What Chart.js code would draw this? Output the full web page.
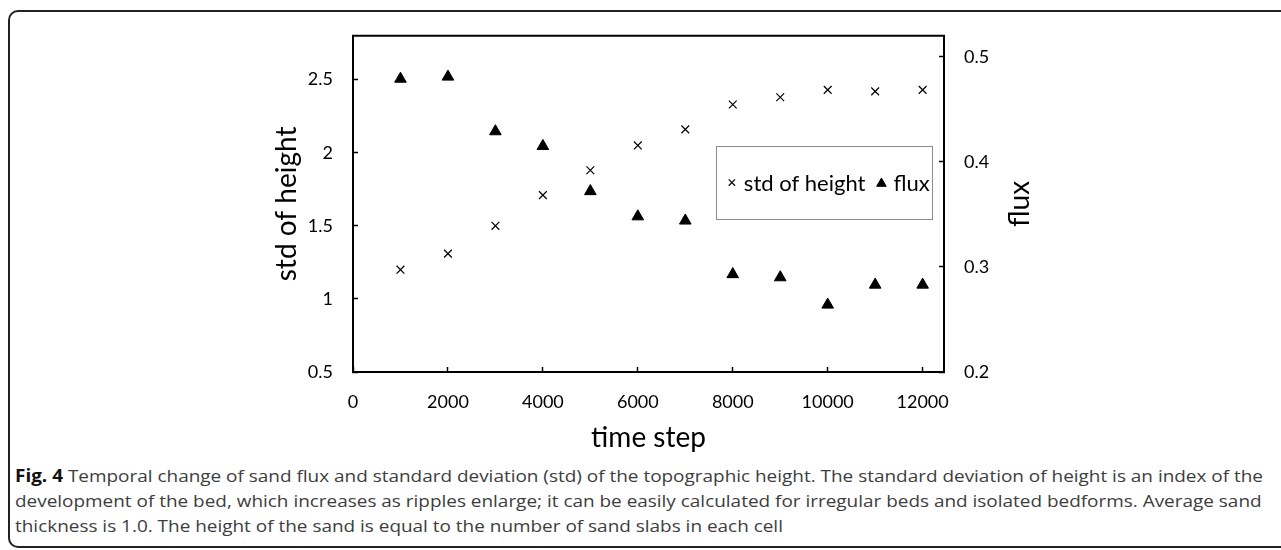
<!DOCTYPE html>
<html>
<head>
<meta charset="utf-8">
<script src="https://cdn.jsdelivr.net/npm/chart.js@4.4.0/dist/chart.umd.min.js"></script>
<style>
  html, body { margin: 0; padding: 0; background: #fff; }
  body { width: 1281px; height: 550px; position: relative; overflow: hidden; }
  #frame { position: absolute; left: 8px; top: 10px; width: 1320px; height: 538px; border: 2px solid #222; border-radius: 10px; box-sizing: border-box; }
  #plot { position: absolute; left: 0; top: 0; }
  #caption { position: absolute; left: 15px; top: 463px; font-family: 'Open Sans', sans-serif; font-size: 17px; line-height: 25px; color: #3d3d3d; white-space: nowrap; }
  #caption div { transform-origin: left center; }
  #caption b { color: #111; }
</style>
</head>
<body>
<div id="frame"></div>
<canvas id="plot" width="1281" height="455"></canvas>
<div id="caption">
  <div><b>Fig. 4</b> Temporal change of sand flux and standard deviation (std) of the topographic height. The standard deviation of height is an index of the</div>
  <div>development of the bed, which increases as ripples enlarge; it can be easily calculated for irregular beds and isolated bedforms. Average sand</div>
  <div>thickness is 1.0. The height of the sand is equal to the number of sand slabs in each cell</div>
</div>
<script>
const timeSteps = [1000, 2000, 3000, 4000, 5000, 6000, 7000, 8000, 9000, 10000, 11000, 12000]
const stdOfHeight = [1.2, 1.31, 1.5, 1.71, 1.88, 2.05, 2.16, 2.33, 2.38, 2.43, 2.42, 2.43]
const flux = [0.479, 0.481, 0.429, 0.415, 0.372, 0.348, 0.344, 0.293, 0.29, 0.264, 0.283, 0.283]
const seriesNames = ['std of height', 'flux']
const xTickValues = [0, 2000, 4000, 6000, 8000, 10000, 12000]
const stdTickValues = [0.5, 1, 1.5, 2, 2.5]
const fluxTickValues = [0.2, 0.3, 0.4, 0.5]
const axisTitles = { x: 'time step', y: 'std of height', y1: 'flux' }

const FONT = 'Lato, "Open Sans", sans-serif'

// caption lines are squeezed to the width of the printed figure
const lines = document.querySelectorAll('#caption div')
const k = 1248 / lines[0].getBoundingClientRect().width
lines.forEach(l => { l.style.transform = 'scaleX(' + k + ')' })

const plotFrame = {
  id: 'plotFrame',
  afterDraw (chart) {
    const { ctx, chartArea: a } = chart
    ctx.save()
    ctx.strokeStyle = '#000'
    ctx.lineWidth = 2
    ctx.beginPath()
    ctx.moveTo(a.left - 1, a.top)
    ctx.lineTo(a.right + 1, a.top)
    ctx.stroke()

    // right axis title reads bottom to top, like the left one
    ctx.fillStyle = '#000'
    ctx.font = '28px ' + FONT
    ctx.textAlign = 'center'
    ctx.textBaseline = 'middle'
    ctx.translate(a.right + 76, (a.top + a.bottom) / 2)
    ctx.rotate(-Math.PI / 2)
    ctx.fillText(axisTitles.y1, 0, 0)
    ctx.restore()
  }
}

const legendBox = {
  id: 'legendBox',
  afterDraw (chart) {
    const { ctx, chartArea: a } = chart
    const w = a.right - a.left
    const h = a.bottom - a.top
    const x0 = a.left + w * 0.614
    const x1 = a.left + w * 0.98
    const y0 = a.top + h * 0.328
    const y1 = a.top + h * 0.545
    const yc = (y0 + y1) / 2
    ctx.save()
    ctx.strokeStyle = '#8a8a8a'
    ctx.lineWidth = 1
    ctx.strokeRect(Math.round(x0) + 0.5, Math.round(y0) + 0.5, Math.round(x1 - x0), Math.round(y1 - y0))
    ctx.font = '22px ' + FONT
    ctx.textBaseline = 'middle'
    let x = x0 + 16
    chart.data.datasets.forEach((ds, i) => {
      ctx.fillStyle = '#000'
      ctx.strokeStyle = '#000'
      ctx.lineWidth = ds.borderWidth
      Chart.helpers.drawPoint(ctx, {
        pointStyle: ds.pointStyle,
        radius: i === 0 ? 4.5 : 5.5,
        borderWidth: ds.borderWidth,
        rotation: 0
      }, x, yc + (i === 0 ? 0 : 1))
      ctx.fillText(ds.label, x + 12, yc + 1)
      x += 12 + ctx.measureText(ds.label).width + 16
    })
    ctx.restore()
  }
}

const axisLook = {
  grid: { drawOnChartArea: false, tickLength: -5, color: '#000', tickColor: '#000', tickWidth: 1.5 },
  border: { color: '#000', width: 2 }
}

const tickFont = { family: FONT, size: 18 }
const titleFont = { family: FONT, size: 28 }

// eslint-disable-next-line no-unused-vars, no-undef
const chart = new Chart(document.querySelector('#plot'), {
  type: 'scatter',
  data: {
    datasets: [{
      label: seriesNames[0],
      data: timeSteps.map((t, i) => ({ x: t, y: stdOfHeight[i] })),
      yAxisID: 'y',
      pointStyle: 'crossRot',
      pointRadius: 5.5,
      borderWidth: 1.2,
      borderColor: '#000',
      backgroundColor: '#000'
    }, {
      label: seriesNames[1],
      data: timeSteps.map((t, i) => ({ x: t, y: flux[i] })),
      yAxisID: 'y1',
      pointStyle: 'triangle',
      pointRadius: 6.7,
      borderWidth: 1,
      borderColor: '#000',
      backgroundColor: '#000'
    }]
  },
  options: {
    responsive: false,
    animation: false,
    devicePixelRatio: 1,
    layout: { padding: { left: 270, right: 244, top: 29, bottom: 0 } },
    plugins: { legend: { display: false }, tooltip: { enabled: false } },
    scales: {
      x: {
        type: 'linear',
        min: 0,
        max: 12450,
        ...axisLook,
        afterBuildTicks: s => { s.ticks = xTickValues.map(v => ({ value: v })) },
        ticks: { padding: 24, color: '#000', font: tickFont, callback: v => String(v) },
        title: { display: true, text: axisTitles.x, color: '#000', padding: 0, font: titleFont },
        afterFit: s => { s.height = 83 }
      },
      y: {
        position: 'left',
        min: 0.5,
        max: 2.8,
        ...axisLook,
        afterBuildTicks: s => { s.ticks = stdTickValues.map(v => ({ value: v })) },
        ticks: { padding: 25, color: '#000', font: tickFont, callback: v => String(v) },
        title: { display: true, text: axisTitles.y, color: '#000', padding: 0, font: titleFont },
        afterFit: s => { s.width = 83 }
      },
      y1: {
        position: 'right',
        min: 0.2,
        max: 0.52,
        ...axisLook,
        afterBuildTicks: s => { s.ticks = fluxTickValues.map(v => ({ value: v })) },
        ticks: { padding: 25, color: '#000', font: tickFont, callback: v => v.toFixed(1) },
        afterFit: s => { s.width = 93 }
      }
    }
  },
  plugins: [plotFrame, legendBox]
})
</script>
</body>
</html>
